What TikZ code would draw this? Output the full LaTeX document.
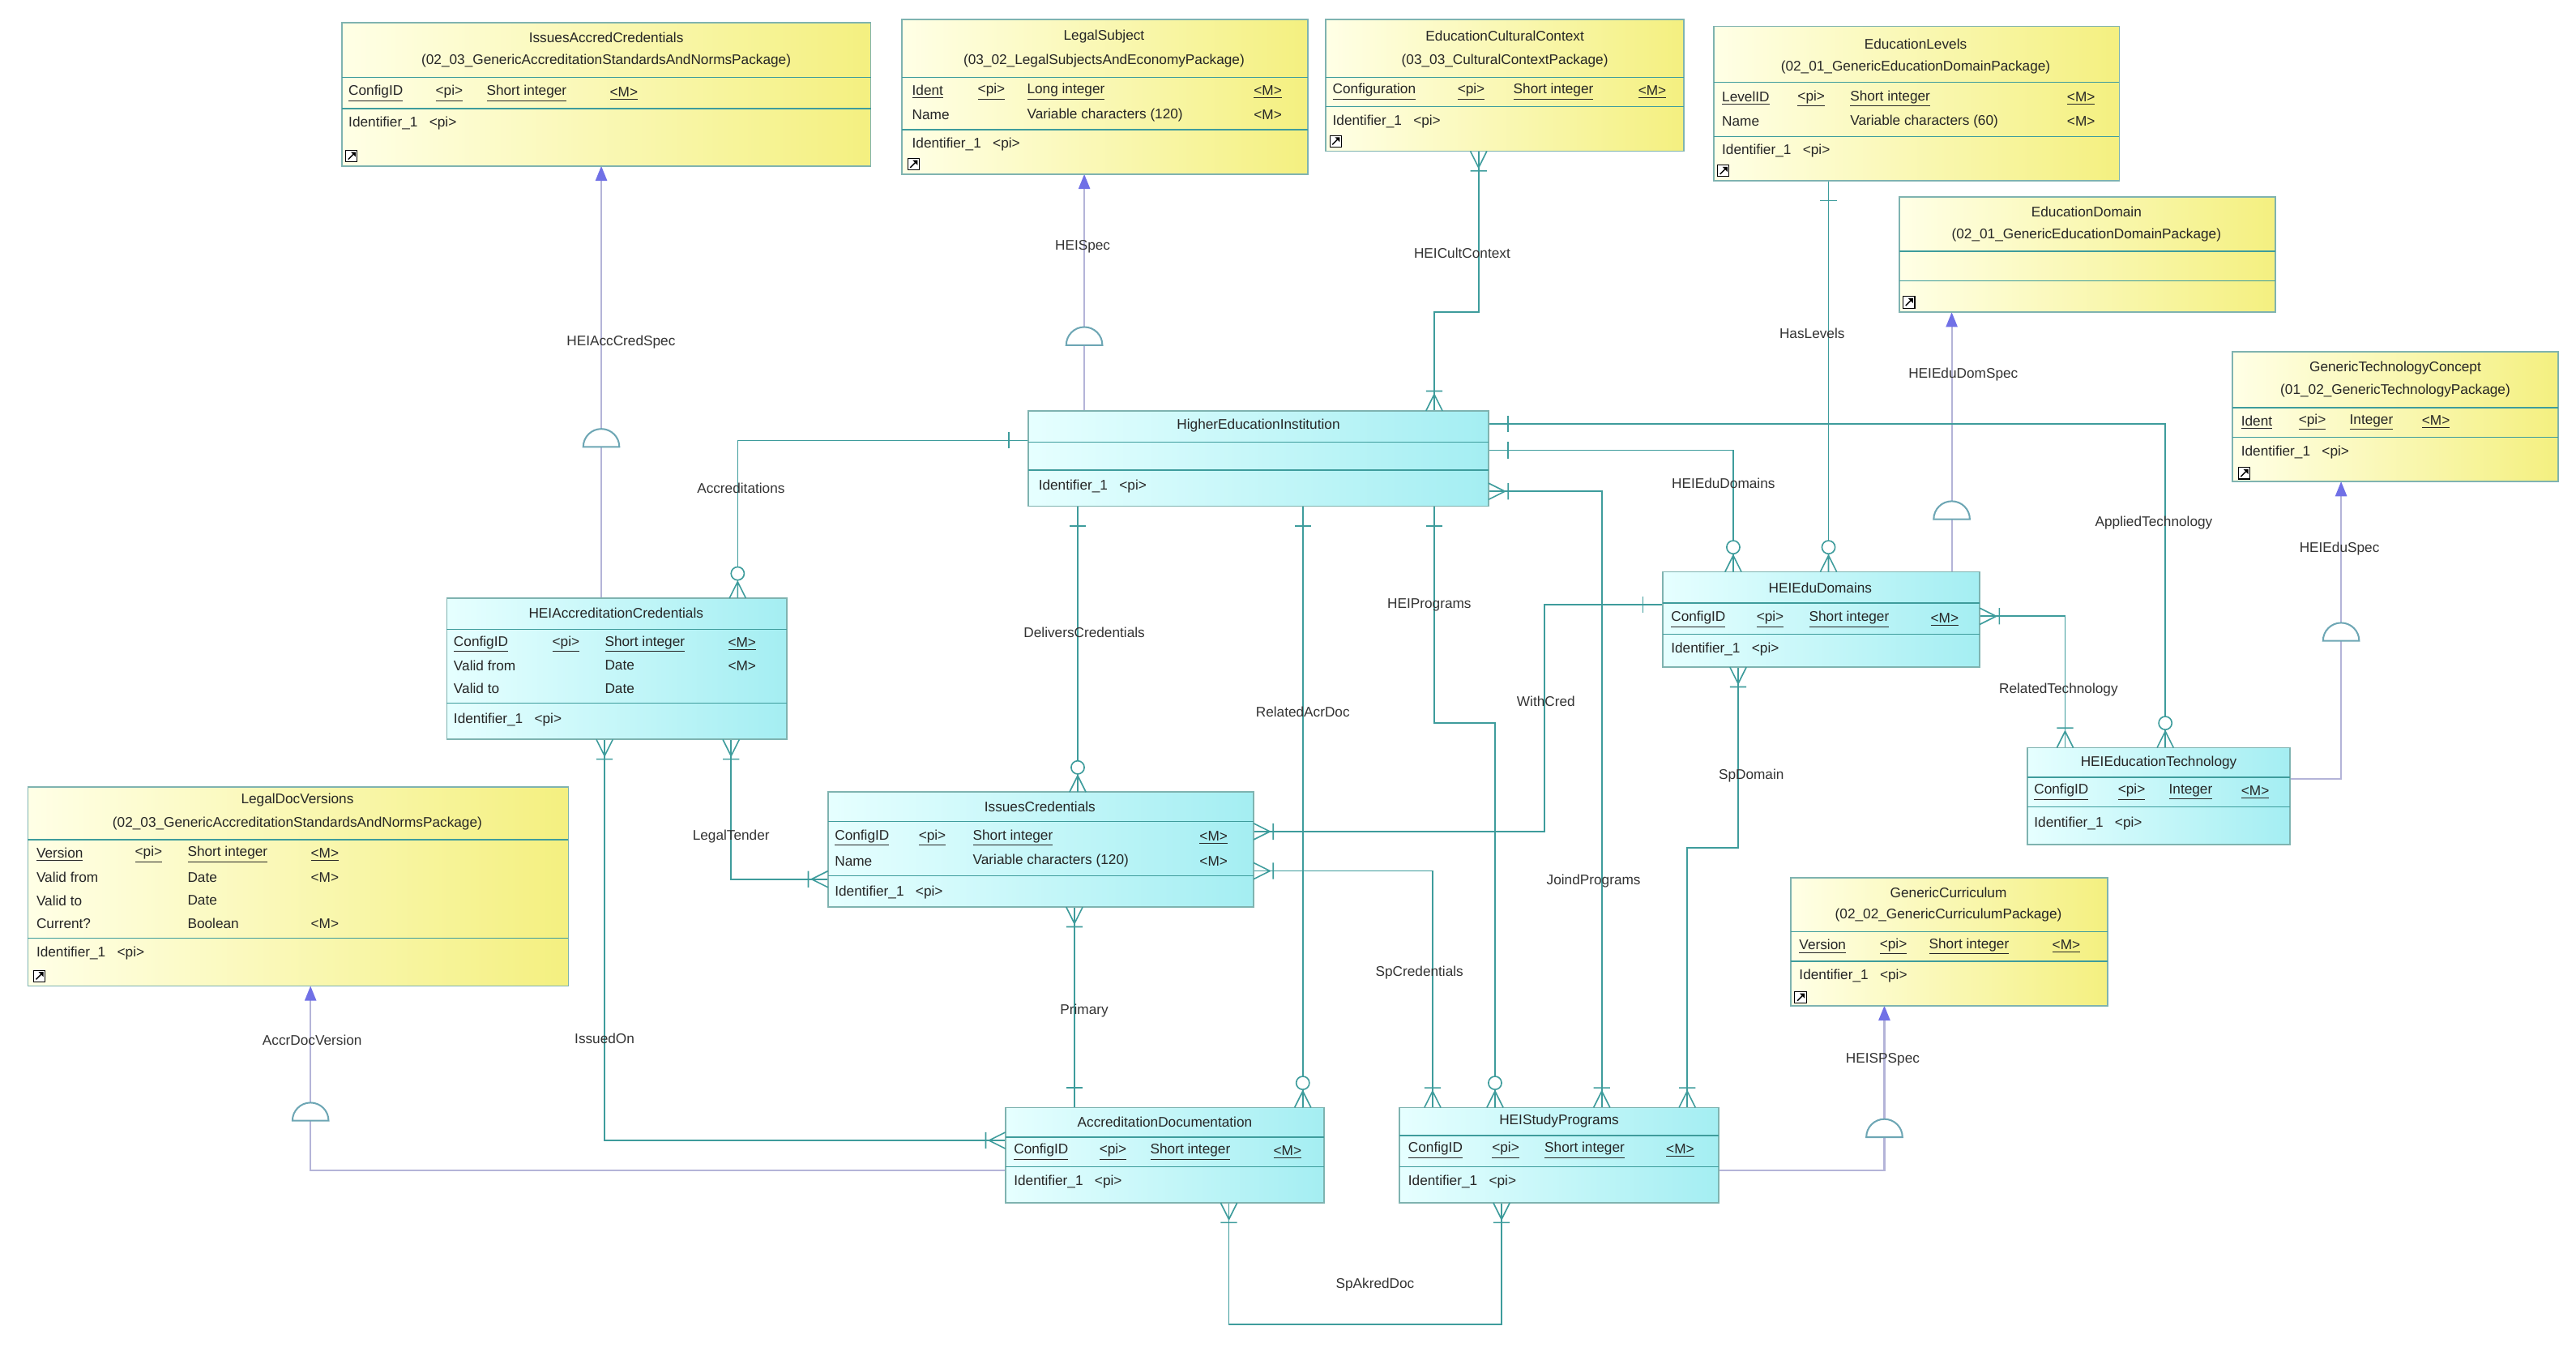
\documentclass[tikz,border=0pt]{standalone}
\usepackage{fontspec}
\setmainfont{Liberation Sans}
\usetikzlibrary{arrows.meta}
\definecolor{relc}{HTML}{3E9C9C}
\definecolor{bordc}{HTML}{7FB3B0}
\definecolor{specc}{HTML}{B4B4D8}
\definecolor{arrc}{HTML}{7070E6}
\definecolor{yA}{HTML}{FFFFE6}
\definecolor{yB}{HTML}{F4F080}
\definecolor{cA}{HTML}{E6FFFF}
\definecolor{cB}{HTML}{A4EEF2}
\tikzset{
 ent/.style={draw=bordc,line width=0.9pt,inner sep=0pt,outer sep=0pt,anchor=north west},
 yel/.style={left color=yA,right color=yB},
 cya/.style={left color=cA,right color=cB},
 sepl/.style={draw=relc,line width=0.7pt},
 txt/.style={anchor=west,inner sep=0pt,font=\fontsize{8.5}{9}\selectfont,text=black!85},
 ttl/.style={anchor=center,inner sep=0pt,font=\fontsize{8.5}{9}\selectfont,text=black!85},
 lbl/.style={anchor=center,inner sep=0pt,font=\fontsize{8.5}{9}\selectfont,text=black!80},
 rel/.style={draw=relc,line width=0.8pt},
 spec/.style={draw=specc,line width=1pt},
 sarr/.style={spec,-{Triangle[length=9pt,width=7pt,fill=arrc,color=arrc]}},
}
\newcommand\ent[6]{\node[ent,#6,minimum width={(#4-#2)*1pt},minimum height={(#5-#3)*1pt}] (#1) at (#2,#3) {};}
\newcommand\sep[3]{\draw[sepl] (#1,#3)--(#2,#3);}
\newcommand\tx[3]{\node[txt] at (#1,#2) {#3};}
\newcommand\ul[3]{\node[txt] at (#1,#2) {\underline{#3}};}
\newcommand\ti[3]{\node[ttl] at (#1,#2) {#3};}
\newcommand\lb[3]{\node[lbl] at (#1,#2) {#3};}
\newcommand\icn[2]{\draw[black,line width=0.5pt,fill=white] (#1-3.5,#2-3.5) rectangle (#1+3.5,#2+3.5);
 \fill[black] (#1+2.5,#2-2.5)--(#1-0.5,#2-2.5)--(#1+2.5,#2+0.5)--cycle; \draw[black,line width=0.7pt] (#1-2,#2+2)--(#1+1.5,#2-1.5);}
\newcommand\cfb[3]{\begin{scope}[shift={(#1,#2)},rotate=#3]\draw[rel](0,-5)--(10,0)--(0,5) (12,-5)--(12,5);\end{scope}}
\newcommand\cfc[3]{\begin{scope}[shift={(#1,#2)},rotate=#3]\draw[rel](0,-5)--(10,0)--(0,5) (0,0)--(11,0); \draw[rel,fill=white] (15,0) circle[radius=4];\end{scope}}
\newcommand\obar[3]{\begin{scope}[shift={(#1,#2)},rotate=#3]\draw[rel](12,-5)--(12,5);\end{scope}}
\newcommand\dome[2]{\draw[spec,draw=relc!60!specc,fill=white] (#1-11,#2) arc[start angle=180,end angle=360,radius=11] -- cycle;}
\begin{document}
\begin{tikzpicture}[x=1pt,y=-1pt]
\useasboundingbox (0,0) rectangle (1568,825);
% ---- connectors (behind boxes)
% specializations
\draw[sarr] (366,364) -- (366,101); \dome{366}{272}
\draw[sarr] (660,250) -- (660,106); \dome{660}{210}
\draw[sarr] (1188,348) -- (1188,190); \dome{1188}{316}
\draw[sarr] (1394,474) -| (1425,293); \dome{1425}{390}
\draw[sarr] (612,712) -| (189,600); \dome{189}{682}
\draw[sarr] (1046,712) -| (1147,612); \dome{1147}{692}
% relationships
\draw[rel] (873,250) |- (900,190) -- (900,92);
\draw[rel] (1113,110) -- (1113,348);
\draw[rel] (906,274) -| (1055,348);
\draw[rel] (906,258) -| (1318,455);
\draw[rel] (1205,375) -| (1257,455);
\draw[rel] (626,268) -| (449,364);
\draw[rel] (656,308) -- (656,482);
\draw[rel] (793,308) -- (793,674);
\draw[rel] (873,308) |- (910,440) -- (910,674);
\draw[rel] (906,299) -| (975,674);
\draw[rel] (1012,368) -| (940,506) -- (763,506);
\draw[rel] (1058,406) |- (1027,516) -- (1027,674);
\draw[rel] (763,530) -| (872,674);
\draw[rel] (445,450) |- (504,535);
\draw[rel] (368,450) |- (612,694);
\draw[rel] (654,552) -- (654,674);
\draw[rel] (748,732) |- (914,806) -- (914,732);
% ---- entities
\ent{iac}{208}{14}{530}{101}{yel}
\ent{ls}{549}{12}{796}{106}{yel}
\ent{ecc}{807}{12}{1025}{92}{yel}
\ent{el}{1043}{16}{1290}{110}{yel}
\ent{edom}{1156}{120}{1385}{190}{yel}
\ent{gtc}{1359}{214}{1557}{293}{yel}
\ent{hei}{626}{250}{906}{308}{cya}
\ent{hac}{272}{364}{479}{450}{cya}
\ent{ldv}{17}{479}{346}{600}{yel}
\ent{ic}{504}{482}{763}{552}{cya}
\ent{hed}{1012}{348}{1205}{406}{cya}
\ent{het}{1234}{455}{1394}{514}{cya}
\ent{gc}{1090}{534}{1283}{612}{yel}
\ent{ad}{612}{674}{806}{732}{cya}
\ent{hsp}{852}{674}{1046}{732}{cya}
% IssuesAccredCredentials
\ti{369}{23}{IssuesAccredCredentials}\ti{369}{37}{(02\_03\_GenericAccreditationStandardsAndNormsPackage)}
\sep{208}{530}{47}\sep{208}{530}{66}
\ul{212}{57}{ConfigID}\ul{265}{57}{<pi>}\ul{296}{57}{Short integer}\ul{371}{57}{<M>}
\tx{212}{75}{Identifier\_1\ \ \ <pi>}\icn{214}{95}
% LegalSubject
\ti{672}{22}{LegalSubject}\ti{672}{37}{(03\_02\_LegalSubjectsAndEconomyPackage)}
\sep{549}{796}{47}\sep{549}{796}{79}
\ul{555}{56}{Ident}\ul{595}{56}{<pi>}\ul{625}{56}{Long integer}\ul{763}{56}{<M>}
\tx{555}{70}{Name}\tx{625}{70}{Variable characters (120)}\tx{763}{70}{<M>}
\tx{555}{88}{Identifier\_1\ \ \ <pi>}\icn{556}{100}
% EducationCulturalContext
\ti{916}{22}{EducationCulturalContext}\ti{916}{37}{(03\_03\_CulturalContextPackage)}
\sep{807}{1025}{47}\sep{807}{1025}{65}
\ul{811}{56}{Configuration}\ul{887}{56}{<pi>}\ul{921}{56}{Short integer}\ul{997}{56}{<M>}
\tx{811}{74}{Identifier\_1\ \ \ <pi>}\icn{813}{86}
% EducationLevels
\ti{1166}{27}{EducationLevels}\ti{1166}{41}{(02\_01\_GenericEducationDomainPackage)}
\sep{1043}{1290}{50}\sep{1043}{1290}{83}
\ul{1048}{60}{LevelID}\ul{1094}{60}{<pi>}\ul{1126}{60}{Short integer}\ul{1258}{60}{<M>}
\tx{1048}{74}{Name}\tx{1126}{74}{Variable characters (60)}\tx{1258}{74}{<M>}
\tx{1048}{92}{Identifier\_1\ \ \ <pi>}\icn{1049}{104}
% EducationDomain
\ti{1270}{129}{EducationDomain}\ti{1270}{143}{(02\_01\_GenericEducationDomainPackage)}
\sep{1156}{1385}{153}\sep{1156}{1385}{171}\icn{1162}{184}
% GenericTechnologyConcept
\ti{1458}{224}{GenericTechnologyConcept}\ti{1458}{238}{(01\_02\_GenericTechnologyPackage)}
\sep{1359}{1557}{248}\sep{1359}{1557}{266}
\ul{1364}{257}{Ident}\ul{1399}{257}{<pi>}\ul{1430}{257}{Integer}\ul{1474}{257}{<M>}
\tx{1364}{275}{Identifier\_1\ \ \ <pi>}\icn{1366}{288}
% HigherEducationInstitution
\ti{766}{259}{HigherEducationInstitution}
\sep{626}{906}{269}\sep{626}{906}{286}
\tx{632}{296}{Identifier\_1\ \ \ <pi>}
% HEIAccreditationCredentials
\ti{375}{373}{HEIAccreditationCredentials}
\sep{272}{479}{383}\sep{272}{479}{428}
\ul{276}{392}{ConfigID}\ul{336}{392}{<pi>}\ul{368}{392}{Short integer}\ul{443}{392}{<M>}
\tx{276}{405}{Valid from}\tx{368}{405}{Date}\tx{443}{405}{<M>}
\tx{276}{419}{Valid to}\tx{368}{419}{Date}
\tx{276}{438}{Identifier\_1\ \ \ <pi>}
% LegalDocVersions
\ti{181}{487}{LegalDocVersions}\ti{181}{501}{(02\_03\_GenericAccreditationStandardsAndNormsPackage)}
\sep{17}{346}{511}\sep{17}{346}{571}
\ul{22}{520}{Version}\ul{82}{520}{<pi>}\ul{114}{520}{Short integer}\ul{189}{520}{<M>}
\tx{22}{534}{Valid from}\tx{114}{534}{Date}\tx{189}{534}{<M>}
\tx{22}{548}{Valid to}\tx{114}{548}{Date}
\tx{22}{562}{Current?}\tx{114}{562}{Boolean}\tx{189}{562}{<M>}
\tx{22}{580}{Identifier\_1\ \ \ <pi>}\icn{24}{594}
% IssuesCredentials
\ti{633}{491}{IssuesCredentials}
\sep{504}{763}{500}\sep{504}{763}{533}
\ul{508}{510}{ConfigID}\ul{559}{510}{<pi>}\ul{592}{510}{Short integer}\ul{730}{510}{<M>}
\tx{508}{524}{Name}\tx{592}{524}{Variable characters (120)}\tx{730}{524}{<M>}
\tx{508}{543}{Identifier\_1\ \ \ <pi>}
% HEIEduDomains
\ti{1108}{358}{HEIEduDomains}
\sep{1012}{1205}{367}\sep{1012}{1205}{386}
\ul{1017}{377}{ConfigID}\ul{1069}{377}{<pi>}\ul{1101}{377}{Short integer}\ul{1175}{377}{<M>}
\tx{1017}{395}{Identifier\_1\ \ \ <pi>}
% HEIEducationTechnology
\ti{1314}{464}{HEIEducationTechnology}
\sep{1234}{1394}{473}\sep{1234}{1394}{491}
\ul{1238}{482}{ConfigID}\ul{1289}{482}{<pi>}\ul{1320}{482}{Integer}\ul{1364}{482}{<M>}
\tx{1238}{501}{Identifier\_1\ \ \ <pi>}
% GenericCurriculum
\ti{1186}{543}{GenericCurriculum}\ti{1186}{557}{(02\_02\_GenericCurriculumPackage)}
\sep{1090}{1283}{567}\sep{1090}{1283}{585}
\ul{1095}{576}{Version}\ul{1144}{576}{<pi>}\ul{1174}{576}{Short integer}\ul{1249}{576}{<M>}
\tx{1095}{594}{Identifier\_1\ \ \ <pi>}\icn{1096}{607}
% AccreditationDocumentation
\ti{709}{683}{AccreditationDocumentation}
\sep{612}{806}{692}\sep{612}{806}{710}
\ul{617}{701}{ConfigID}\ul{669}{701}{<pi>}\ul{700}{701}{Short integer}\ul{775}{701}{<M>}
\tx{617}{719}{Identifier\_1\ \ \ <pi>}
% HEIStudyPrograms
\ti{949}{682}{HEIStudyPrograms}
\sep{852}{1046}{691}\sep{852}{1046}{710}
\ul{857}{700}{ConfigID}\ul{908}{700}{<pi>}\ul{940}{700}{Short integer}\ul{1014}{700}{<M>}
\tx{857}{719}{Identifier\_1\ \ \ <pi>}
% ---- cardinality markers
\cfb{873}{250}{90}\cfb{900}{92}{270}
\cfc{1113}{348}{90}\obar{1113}{110}{270}
\obar{906}{274}{0}\cfc{1055}{348}{90}
\obar{906}{258}{0}\cfc{1318}{455}{90}
\cfb{1205}{375}{0}\cfb{1257}{455}{90}
\obar{626}{268}{180}\cfc{449}{364}{90}
\obar{656}{308}{270}\cfc{656}{482}{90}
\obar{793}{308}{270}\cfc{793}{674}{90}
\obar{873}{308}{270}\cfc{910}{674}{90}
\cfb{906}{299}{0}\cfb{975}{674}{90}
\obar{1012}{368}{180}\cfb{763}{506}{0}
\cfb{1058}{406}{270}\cfb{1027}{674}{90}
\cfb{763}{530}{0}\cfb{872}{674}{90}
\cfb{445}{450}{270}\cfb{504}{535}{180}
\cfb{368}{450}{270}\cfb{612}{694}{180}
\cfb{654}{552}{270}\obar{654}{674}{90}
\cfb{748}{732}{270}\cfb{914}{732}{270}
% ---- labels
\lb{378}{208}{HEIAccCredSpec}
\lb{659}{150}{HEISpec}
\lb{890}{154}{HEICultContext}
\lb{1103}{203}{HasLevels}
\lb{1195}{228}{HEIEduDomSpec}
\lb{1049}{294}{HEIEduDomains}
\lb{1311}{318}{AppliedTechnology}
\lb{1424}{334}{HEIEduSpec}
\lb{1253}{420}{RelatedTechnology}
\lb{451}{297}{Accreditations}
\lb{660}{385}{DeliversCredentials}
\lb{793}{433}{RelatedAcrDoc}
\lb{870}{368}{HEIPrograms}
\lb{970}{536}{JoindPrograms}
\lb{941}{427}{WithCred}
\lb{1066}{472}{SpDomain}
\lb{864}{592}{SpCredentials}
\lb{445}{509}{LegalTender}
\lb{368}{632}{IssuedOn}
\lb{660}{615}{Primary}
\lb{190}{633}{AccrDocVersion}
\lb{1146}{645}{HEISPSpec}
\lb{837}{782}{SpAkredDoc}
\end{tikzpicture}
\end{document}
